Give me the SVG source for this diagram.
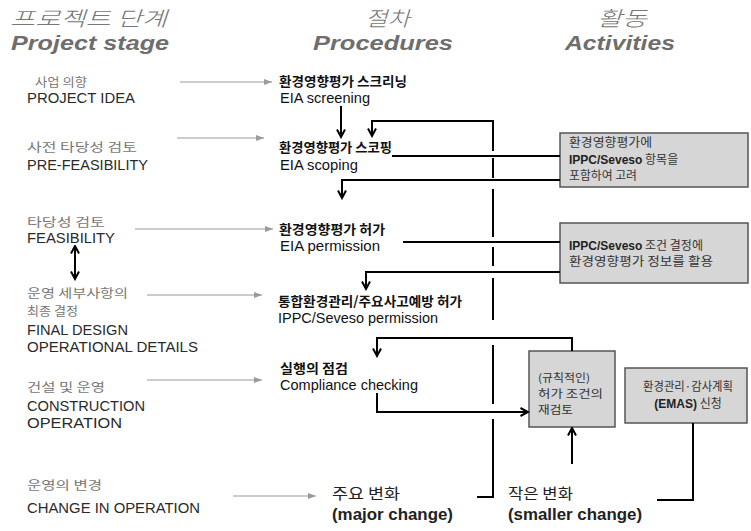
<svg xmlns="http://www.w3.org/2000/svg" width="751" height="531" viewBox="0 0 751 531">
<defs>
<style>
.hk{font-family:"Noto Sans CJK KR","Liberation Sans",sans-serif;font-style:italic;font-weight:300;font-size:20.5px;fill:#777}
.he{font-family:"Liberation Sans",Arial,sans-serif;font-style:italic;font-weight:bold;font-size:21px;fill:#6e6e6e}
.lk{font-family:"Noto Sans CJK KR","Liberation Sans",sans-serif;font-size:12.3px;fill:#777}
.le{font-family:"Liberation Sans",Arial,sans-serif;font-size:14.8px;fill:#2a2a2a}
.pk{font-family:"Noto Sans CJK KR","Liberation Sans",sans-serif;font-weight:bold;font-size:13px;fill:#111}
.pe{font-family:"Liberation Sans",Arial,sans-serif;font-size:14.5px;fill:#111}
.bk{font-family:"Noto Sans CJK KR","Liberation Sans",sans-serif;font-size:12px;fill:#333}
.bs{font-family:"Noto Sans CJK KR","Liberation Sans",sans-serif;font-size:11px;fill:#333}
.bb{font-family:"Liberation Sans",Arial,sans-serif;font-weight:bold;font-size:12px;fill:#222}
.ck{font-family:"Noto Sans CJK KR","Liberation Sans",sans-serif;font-size:14.5px;fill:#222}
.ce{font-family:"Liberation Sans",Arial,sans-serif;font-weight:bold;font-size:17px;fill:#222}
.box{fill:#d6d6d6;stroke:#555;stroke-width:1.5}
.gl{stroke:#9a9a9a;stroke-width:1.2;fill:none}
.bl{stroke:#000;stroke-width:2;fill:none}
</style>
<marker id="ga" viewBox="0 0 8 6" markerWidth="8" markerHeight="6" refX="8" refY="3" orient="auto" markerUnits="userSpaceOnUse"><path d="M0,0 L8,3 L0,6 z" fill="#9a9a9a"/></marker>
<marker id="ah" viewBox="0 0 10 10" markerWidth="10" markerHeight="10" refX="8.5" refY="5" orient="auto-start-reverse" markerUnits="userSpaceOnUse"><path d="M1,1 L8.5,5 L1,9" fill="none" stroke="#000" stroke-width="2"/></marker>
</defs>
<rect width="751" height="531" fill="#fff"/>

<g id="headers">
<text class="hk" x="10" y="26" textLength="157" lengthAdjust="spacingAndGlyphs">프로젝트 단계</text>
<text class="he" x="11" y="50" textLength="158" lengthAdjust="spacingAndGlyphs">Project stage</text>
<text class="hk" x="365" y="26" textLength="45" lengthAdjust="spacingAndGlyphs">절차</text>
<text class="he" x="313" y="50" textLength="140" lengthAdjust="spacingAndGlyphs">Procedures</text>
<text class="hk" x="597" y="26" textLength="50" lengthAdjust="spacingAndGlyphs">활동</text>
<text class="he" x="565" y="50" textLength="110" lengthAdjust="spacingAndGlyphs">Activities</text>
</g>

<g id="stage-idea">
<text class="lk" x="35" y="87" textLength="52" lengthAdjust="spacingAndGlyphs">사업 의향</text>
<text class="le" x="27" y="103" textLength="108" lengthAdjust="spacingAndGlyphs">PROJECT IDEA</text>
</g>
<g id="stage-prefeas">
<text class="lk" x="27" y="152" textLength="110" lengthAdjust="spacingAndGlyphs">사전 타당성 검토</text>
<text class="le" x="27" y="170" textLength="121" lengthAdjust="spacingAndGlyphs">PRE-FEASIBILITY</text>
</g>
<g id="stage-feas">
<text class="lk" x="27" y="227" textLength="78" lengthAdjust="spacingAndGlyphs">타당성 검토</text>
<text class="le" x="27" y="243" textLength="88" lengthAdjust="spacingAndGlyphs">FEASIBILITY</text>
</g>
<g id="stage-final">
<text class="lk" x="27" y="298" textLength="101" lengthAdjust="spacingAndGlyphs">운영 세부사항의</text>
<text class="lk" x="27" y="316" textLength="51" lengthAdjust="spacingAndGlyphs">최종 결정</text>
<text class="le" x="27" y="335" textLength="101" lengthAdjust="spacingAndGlyphs">FINAL DESIGN</text>
<text class="le" x="27" y="352" textLength="171" lengthAdjust="spacingAndGlyphs">OPERATIONAL DETAILS</text>
</g>
<g id="stage-construction">
<text class="lk" x="27" y="392" textLength="78" lengthAdjust="spacingAndGlyphs">건설 및 운영</text>
<text class="le" x="27" y="411" textLength="118" lengthAdjust="spacingAndGlyphs">CONSTRUCTION</text>
<text class="le" x="27" y="428" textLength="95" lengthAdjust="spacingAndGlyphs">OPERATION</text>
</g>
<g id="stage-change">
<text class="lk" x="27" y="490" textLength="75" lengthAdjust="spacingAndGlyphs">운영의 변경</text>
<text class="le" x="27" y="513" textLength="173" lengthAdjust="spacingAndGlyphs">CHANGE IN OPERATION</text>
</g>

<g id="proc-screening">
<text class="pk" x="279" y="86" textLength="128" lengthAdjust="spacingAndGlyphs">환경영향평가 스크리닝</text>
<text class="pe" x="280" y="103" textLength="90" lengthAdjust="spacingAndGlyphs">EIA screening</text>
</g>
<g id="proc-scoping">
<text class="pk" x="279" y="152" textLength="113" lengthAdjust="spacingAndGlyphs">환경영향평가 스코핑</text>
<text class="pe" x="280" y="170" textLength="78" lengthAdjust="spacingAndGlyphs">EIA scoping</text>
</g>
<g id="proc-permission">
<text class="pk" x="279" y="234" textLength="106" lengthAdjust="spacingAndGlyphs">환경영향평가 허가</text>
<text class="pe" x="280" y="251" textLength="100" lengthAdjust="spacingAndGlyphs">EIA permission</text>
</g>
<g id="proc-ippc">
<text class="pk" x="278" y="306" textLength="184" lengthAdjust="spacingAndGlyphs">통합환경관리/주요사고예방 허가</text>
<text class="pe" x="278" y="323" textLength="160" lengthAdjust="spacingAndGlyphs">IPPC/Seveso permission</text>
</g>
<g id="proc-compliance">
<text class="pk" x="280" y="373" textLength="68" lengthAdjust="spacingAndGlyphs">실행의 점검</text>
<text class="pe" x="280" y="390" textLength="138" lengthAdjust="spacingAndGlyphs">Compliance checking</text>
</g>
<g id="major-change">
<text class="ck" x="332" y="499" textLength="68" lengthAdjust="spacingAndGlyphs">주요 변화</text>
<text class="ce" x="332" y="520" textLength="121" lengthAdjust="spacingAndGlyphs">(major change)</text>
</g>
<g id="smaller-change">
<text class="ck" x="508" y="499" textLength="65" lengthAdjust="spacingAndGlyphs">작은 변화</text>
<text class="ce" x="508" y="520" textLength="134" lengthAdjust="spacingAndGlyphs">(smaller change)</text>
</g>

<g id="act-scoping">
<rect class="box" x="560" y="133" width="188" height="54"/>
<text class="bk" x="569" y="147" textLength="83" lengthAdjust="spacingAndGlyphs">환경영향평가에</text>
<text x="569" y="164"><tspan class="bb">IPPC/Seveso</tspan><tspan class="bk"> 항목을</tspan></text>
<text class="bk" x="569" y="180" textLength="68" lengthAdjust="spacingAndGlyphs">포함하여 고려</text>
</g>
<g id="act-permission">
<rect class="box" x="560" y="223" width="188" height="60"/>
<text x="569" y="250"><tspan class="bb">IPPC/Seveso</tspan><tspan class="bk"> 조건 결정에</tspan></text>
<text class="bk" x="569" y="266" textLength="144" lengthAdjust="spacingAndGlyphs">환경영향평가 정보를 활용</text>
</g>
<g id="act-review">
<rect class="box" x="529" y="351" width="86" height="76"/>
<text class="bs" x="538" y="382" textLength="52" lengthAdjust="spacingAndGlyphs">(규칙적인)</text>
<text class="bs" x="538" y="398" textLength="65" lengthAdjust="spacingAndGlyphs">허가 조건의</text>
<text class="bs" x="538" y="414" textLength="35" lengthAdjust="spacingAndGlyphs">재검토</text>
</g>
<g id="act-emas">
<rect class="box" x="625" y="368" width="122" height="55"/>
<text class="bk" x="688" y="391" text-anchor="middle" textLength="90" lengthAdjust="spacingAndGlyphs">환경관리·감사계획</text>
<text x="688" y="408" text-anchor="middle"><tspan class="bb">(EMAS)</tspan><tspan class="bk"> 신청</tspan></text>
</g>

<g id="connectors">
<path class="gl" marker-end="url(#ga)" d="M180,82 H272"/>
<path class="gl" marker-end="url(#ga)" d="M177,138 H264"/>
<path class="gl" marker-end="url(#ga)" d="M135,229 H273"/>
<path class="gl" marker-end="url(#ga)" d="M147,295 H262"/>
<path class="gl" marker-end="url(#ga)" d="M147,380 H262"/>
<path class="gl" marker-end="url(#ga)" d="M233,496 H316"/>

<path class="bl" marker-start="url(#ah)" marker-end="url(#ah)" d="M75,246 V279"/>

<path class="bl" marker-end="url(#ah)" d="M341,106 V137"/>
<path class="bl" marker-end="url(#ah)" d="M493,151 V121 H372 V136"/>
<path class="bl" d="M493,158 V178"/>
<path class="bl" d="M493,189 V237"/>
<path class="bl" d="M493,247 V266"/>
<path class="bl" d="M493,278 V320"/>
<path class="bl" d="M493,345 V404"/>
<path class="bl" d="M477,497 H493 V419"/>

<path class="bl" d="M392,156 H560"/>
<path class="bl" marker-end="url(#ah)" d="M560,180 H342 V198"/>
<path class="bl" d="M403,242 H560"/>
<path class="bl" marker-end="url(#ah)" d="M560,272 H366 V289"/>
<path class="bl" marker-end="url(#ah)" d="M572,351 V338 H377 V356"/>
<path class="bl" marker-end="url(#ah)" d="M377,393 V412 H528"/>
<path class="bl" marker-end="url(#ah)" d="M572,464 V428"/>
<path class="bl" d="M693,423 V500 H657"/>
</g>
</svg>
